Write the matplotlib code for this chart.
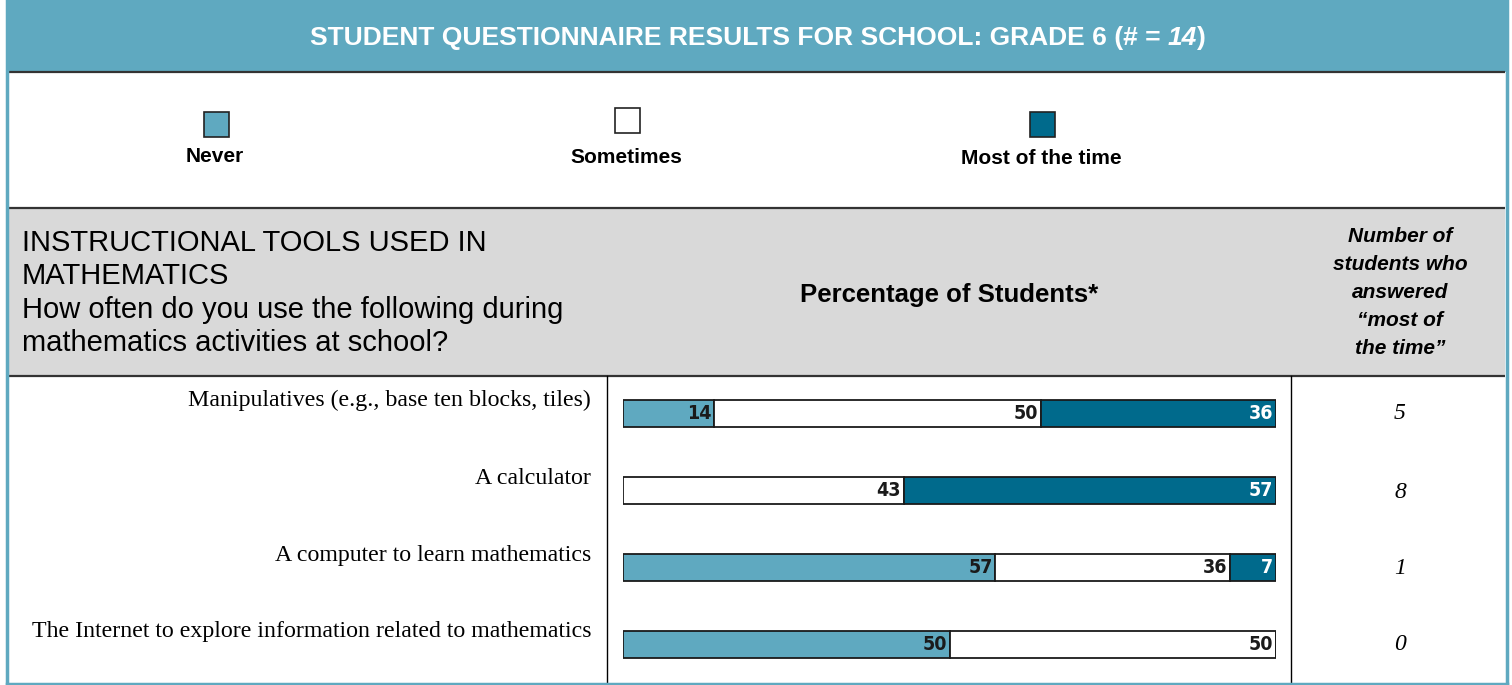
import matplotlib
matplotlib.use("Agg")
from matplotlib import pyplot as plt
from matplotlib.patches import Rectangle

# survey data
categories = ["Never", "Sometimes", "Most of the time"]
items = [
  "Manipulatives (e.g., base ten blocks, tiles)",
  "A calculator",
  "A computer to learn mathematics",
  "The Internet to explore information related to mathematics",
]
never_pct = [14, 0, 57, 50]
sometimes_pct = [50, 43, 36, 50]
most_pct = [36, 57, 7, 0]
most_count = [5, 8, 1, 0]
n_students = 14

colors = ["#5fa9c0", "#ffffff", "#006a8c"]
label_colors = ["#1a1a1a", "#1a1a1a", "#ffffff"]
teal = "#5fa9c0"
gray = "#d9d9d9"
line_dark = "#333333"

W, H = 1512, 685
fig = plt.figure(figsize=(W / 100, H / 100), dpi=100)
fig.patch.set_facecolor("white")

# background axes in pixel units, origin top-left
bg = fig.add_axes([0, 0, 1, 1])
bg.set_xlim(0, W)
bg.set_ylim(H, 0)
bg.axis("off")

# header band, legend band, grey column header band
bg.add_patch(Rectangle((6, 0), 1501, 72, facecolor=teal, edgecolor="none"))
bg.add_patch(Rectangle((8, 208), 1497, 168, facecolor=gray, edgecolor="none"))
for y in [72, 208, 376]:
  bg.plot([8, 1505], [y, y], color=line_dark, lw=1.6, solid_capstyle="butt")
for x in [607, 1291]:
  bg.plot([x, x], [376, 684], color="black", lw=1.0)
# outer frame
bg.plot([6.5, 6.5], [0, 683.5], color=teal, lw=2.5)
bg.plot([1506.5, 1506.5], [0, 683.5], color=teal, lw=2.5)
bg.plot([6.5, 1506.5], [683.5, 683.5], color=teal, lw=2.5)

# title with italic count
sans = "Liberation Sans"
tsize = 19
t1 = bg.text(0, 38, "STUDENT QUESTIONNAIRE RESULTS FOR SCHOOL: GRADE 6 (# = ",
             color="white", fontsize=tsize, fontweight="bold", family=sans, va="center", ha="left")
t2 = bg.annotate(str(n_students), xy=(1, 0), xycoords=t1, va="bottom", ha="left",
                 color="white", fontsize=tsize, fontweight="bold", fontstyle="italic", family=sans)
t3 = bg.annotate(")", xy=(1, 0), xycoords=t2, va="bottom", ha="left",
                 color="white", fontsize=tsize, fontweight="bold", family=sans)
fig.canvas.draw()
r = fig.canvas.get_renderer()
x0 = t1.get_window_extent(r).x0
x1 = t3.get_window_extent(r).x1
t1.set_x(758 - (x1 - x0) / 2)

# legend
legend_x = [216, 627, 1042]
legend_box_y = [112, 108, 112]
legend_text_y = [156, 157, 158]
for i, cat in enumerate(categories):
  bg.add_patch(Rectangle((legend_x[i] - 12.5, legend_box_y[i]), 25, 25,
                         facecolor=colors[i], edgecolor="#222222", lw=1.2))
  bg.text(legend_x[i] - 1, legend_text_y[i], cat, ha="center", va="center",
          fontsize=15, fontweight="bold", family=sans)

# grey header texts
bg.text(22, 293, "INSTRUCTIONAL TOOLS USED IN\nMATHEMATICS\nHow often do you use the following during\nmathematics activities at school?",
        ha="left", va="center", fontsize=21, family=sans, linespacing=1.24)
bg.text(949, 295, "Percentage of Students*", ha="center", va="center",
        fontsize=18.5, fontweight="bold", family=sans)
bg.text(1400, 292, "Number of\nstudents who\nanswered\n\u201cmost of\nthe time\u201d", ha="center", va="center",
        fontsize=15, fontweight="bold", fontstyle="italic", family=sans, linespacing=1.6)

# row labels and counts
row_y = [400, 478, 555, 632]
count_y = [413, 492, 568, 645]
for i, item in enumerate(items):
  bg.text(591, row_y[i], item, ha="right", va="center", fontsize=17.2, family="Liberation Serif")
  bg.text(1400, count_y[i], str(most_count[i]), ha="center", va="center",
          fontsize=17, fontstyle="italic", family="Liberation Serif")

# stacked bars
ax = fig.add_axes([623 / W, (H - 685) / H, (1276 - 623) / W, (685 - 376) / H])
ax.set_xlim(0, 100)
ax.set_ylim(len(items) - 0.48, -0.48)
ax.axis("off")
ypos = list(range(len(items)))
series = [never_pct, sometimes_pct, most_pct]
left = [0] * len(items)
for k, vals in enumerate(series):
  ax.barh(ypos, vals, left=left, height=0.35, color=colors[k], edgecolor="#1a1a1a", linewidth=1.3)
  for i, v in enumerate(vals):
    if v > 0:
      ax.text(left[i] + v - 0.4, i, str(v), ha="right", va="center", color=label_colors[k],
              fontsize=14, fontweight="bold", fontstretch="condensed", family="DejaVu Sans")
  left = [a + b for a, b in zip(left, vals)]

fig.savefig("out.png", dpi=100)
